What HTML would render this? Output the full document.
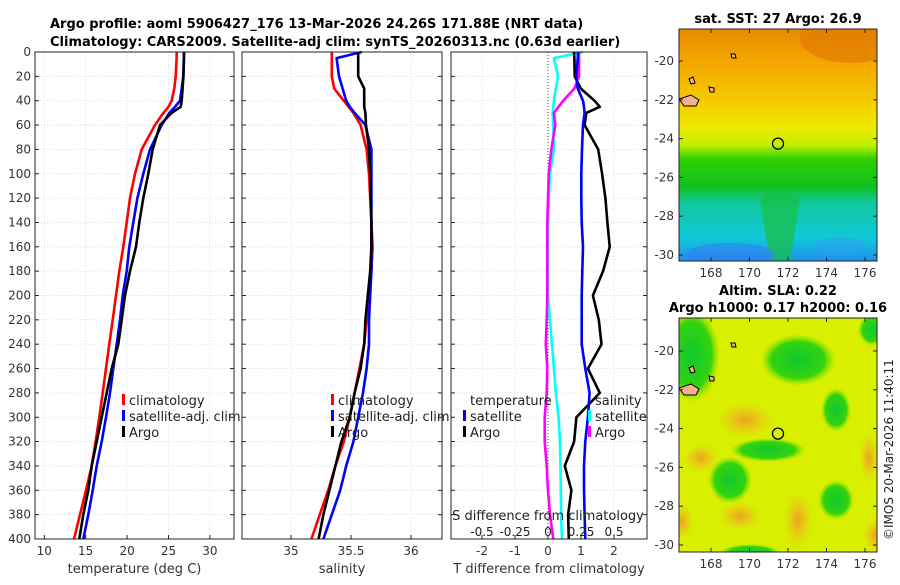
<!DOCTYPE html>
<html><head><meta charset="utf-8"><style>
body{margin:0;background:#fff;font-family:"Liberation Sans","DejaVu Sans",sans-serif}
svg text{font-family:"DejaVu Sans","Liberation Sans",sans-serif}
</style></head><body>
<svg id="chart" width="900" height="580" xmlns="http://www.w3.org/2000/svg">
<defs>
<linearGradient id="sstg" x1="0" y1="0" x2="0" y2="1">
<stop offset="0" stop-color="#e88a00"/><stop offset="0.15" stop-color="#f5a800"/><stop offset="0.3" stop-color="#f5c800"/><stop offset="0.42" stop-color="#f0e800"/><stop offset="0.5" stop-color="#c0f000"/><stop offset="0.56" stop-color="#30d000"/><stop offset="0.68" stop-color="#10c020"/><stop offset="0.75" stop-color="#10c8a0"/><stop offset="0.9" stop-color="#10c8d8"/><stop offset="1" stop-color="#2090f0"/>
</linearGradient>
<radialGradient id="gb"><stop offset="0" stop-color="#10c830"/><stop offset="0.7" stop-color="#20d010" stop-opacity="0.9"/><stop offset="1" stop-color="#80e000" stop-opacity="0"/></radialGradient>
<radialGradient id="ob"><stop offset="0" stop-color="#f0a020"/><stop offset="1" stop-color="#f0c020" stop-opacity="0"/></radialGradient>
</defs>
<g id="titles" font-size="13" font-weight="bold">
<text x="50" y="28">Argo profile: aoml 5906427_176 13-Mar-2026 24.26S 171.88E (NRT data)</text>
<text x="50" y="46">Climatology: CARS2009. Satellite-adj clim: synTS_20260313.nc (0.63d earlier)</text>
</g>
<g id="p1"></g><g id="p2"></g><g id="p3"></g>
<g id="maps"></g>
<text transform="translate(893,540) rotate(-90)" font-size="12" fill="#222">©IMOS 20-Mar-2026 11:40:11</text>
</svg>
<script>
const NS='http://www.w3.org/2000/svg';
const depths=[0,5,20,30,40,45,50,60,80,100,120,140,160,180,200,220,240,260,280,300,320,340,360,380,400];
const tempClim=[25.99,25.98,25.87,25.7,25.39,25.0,24.38,23.37,21.76,20.95,20.35,19.95,19.54,19.06,18.66,18.26,17.85,17.45,17.05,16.64,16.2,15.72,15.04,14.31,13.59];
const tempSat=[26.87,26.86,26.79,26.59,26.39,25.8,25.1,24.18,22.77,21.96,21.24,20.75,20.27,19.95,19.47,19.14,18.74,18.33,17.93,17.45,16.93,16.33,15.84,15.31,14.71];
const tempArgo=[26.87,26.86,26.8,26.7,26.6,26.47,25.39,23.97,23.09,22.56,21.96,21.47,21.07,20.35,19.75,19.35,18.94,18.14,17.54,16.93,16.33,15.72,15.31,14.71,14.23];
const salClim=[35.34,35.34,35.34,35.36,35.44,35.48,35.52,35.58,35.63,35.65,35.66,35.67,35.68,35.67,35.65,35.63,35.61,35.57,35.53,35.49,35.44,35.37,35.31,35.24,35.17];
const salSat=[35.59,35.38,35.40,35.43,35.46,35.49,35.53,35.62,35.67,35.67,35.67,35.67,35.67,35.67,35.66,35.65,35.65,35.63,35.60,35.56,35.52,35.46,35.41,35.34,35.27];
const salArgo=[35.56,35.56,35.56,35.61,35.61,35.61,35.62,35.625,35.65,35.66,35.665,35.67,35.67,35.66,35.64,35.62,35.61,35.58,35.53,35.49,35.42,35.37,35.32,35.27,35.23];
const dTSat=[0.91,0.9,0.86,0.9,1.06,1.09,1.11,1.06,1.03,1.01,1.01,1.02,1.06,1.04,1.02,1.02,1.02,1.13,1.26,1.21,1.13,1.09,1.09,1.11,1.13];
const dTArgo=[0.79,0.8,0.81,0.99,1.41,1.57,1.16,1.11,1.52,1.64,1.74,1.80,1.87,1.67,1.36,1.54,1.62,1.21,1.57,0.86,0.79,0.51,0.71,0.61,0.63];
const dSSat=[0.265,0.045,0.076,0.06,0.045,0.04,0.035,0.04,0.045,0.015,0.005,0,0,0,0,0.015,0.03,0.045,0.06,0.08,0.09,0.095,0.097,0.1,0.105];
const dSArgo=[0.235,0.235,0.235,0.2,0.115,0.08,0.045,0.055,0.025,0.005,0,-0.005,-0.005,-0.005,-0.005,-0.01,-0.017,-0.005,-0.01,-0.025,-0.025,-0.01,0.0,0.015,0.04];
const depthTicks=[0,20,40,60,80,100,120,140,160,180,200,220,240,260,280,300,320,340,360,380,400];
const tempTicks=[10,15,20,25,30];
const salTicks=[35,35.5,36];
const dTTicks=[-2,-1,0,1,2];
const dSTicks=[-0.5,-0.25,0,0.25,0.5];
const dSTickLabels=['-0.5','-0.25','0','0.25','0.5'];

const Y0=52,Y1=539;
const yD=d=>Y0+(d/400)*(Y1-Y0);
function el(t,a,p){const e=document.createElementNS(NS,t);for(const k in a)e.setAttribute(k,a[k]);(p||document.getElementById('chart')).appendChild(e);return e;}
function txt(s,a,p){const e=el('text',a,p);e.textContent=s;return e;}

function panel(g,x0,x1,xf,ticks,labels,xlabel){
  const G=document.getElementById(g);
  el('rect',{x:x0,y:Y0,width:x1-x0,height:Y1-Y0,fill:'#fff',stroke:'none'},G);
  depthTicks.forEach(d=>{el('line',{x1:x0,x2:x1,y1:yD(d),y2:yD(d),stroke:'#cfd3e6','stroke-width':0.8,'stroke-dasharray':'1,2'},G);
    el('line',{x1:x0,x2:x0+4,y1:yD(d),y2:yD(d),stroke:'#222'},G);el('line',{x1:x1,x2:x1-4,y1:yD(d),y2:yD(d),stroke:'#222'},G);});
  ticks.forEach((v,i)=>{const x=xf(v);
    el('line',{x1:x,x2:x,y1:Y0,y2:Y1,stroke:'#cfd3e6','stroke-width':0.8,'stroke-dasharray':'1,2'},G);
    el('line',{x1:x,x2:x,y1:Y1,y2:Y1-4,stroke:'#222'},G);
    const t=txt(labels[i],{x:x,y:Y1+16,'font-size':12,'text-anchor':'middle',fill:'#333'},G);
    });
  const xl=txt(xlabel,{x:(x0+x1)/2,y:Y1+34,'font-size':13,'text-anchor':'middle',fill:'#333'},G);
  
  return G;
}
function line(G,xf,vals,col,name){
  const pts=vals.map((v,i)=>xf(v).toFixed(1)+','+yD(depths[i]).toFixed(1)).join(' ');
  const p=el('polyline',{points:pts,fill:'none',stroke:col,'stroke-width':2.6,'stroke-linejoin':'round'},G);
  
}
function frame(G,x0,x1){el('rect',{x:x0,y:Y0,width:x1-x0,height:Y1-Y0,fill:'none',stroke:'#222','stroke-width':1},G);}
function legend(G,x,y,items){items.forEach((it,i)=>{
  el('rect',{x:x,y:y+i*16-11,width:3,height:11,fill:it[1]},G);
  const t=txt(it[0],{x:x+7,y:y+i*16,'font-size':13,fill:'#222'},G);
  });}

// Panel 1 temperature
const xT=v=>44.3+(v-10)*8.28;
let G=panel('p1',35,234,xT,tempTicks,tempTicks.map(String),'temperature (deg C)');
depthTicks.forEach(d=>{
 const t=txt(String(d),{x:31,y:yD(d)+4,'font-size':12,'text-anchor':'end',fill:'#333'},G);
 });
line(G,xT,tempClim,'#f00','temp-climatology-line');
line(G,xT,tempSat,'#00f','temp-satellite-adj-line');
line(G,xT,tempArgo,'#000','temp-argo-line');
legend(G,122,405,[['climatology','#f00'],['satellite-adj. clim','#00f'],['Argo','#000']]);
frame(G,35,234);

// Panel 2 salinity
const xS=v=>291+(v-35)*120;
G=panel('p2',242,442,xS,salTicks,['35','35.5','36'],'salinity');
line(G,xS,salClim,'#f00','sal-climatology-line');
line(G,xS,salSat,'#00f','sal-satellite-adj-line');
line(G,xS,salArgo,'#000','sal-argo-line');
legend(G,331,405,[['climatology','#f00'],['satellite-adj. clim','#00f'],['Argo','#000']]);
frame(G,242,442);

// Panel 3 differences
const xdT=v=>548+v*33;
const xdS=v=>548+v*132;
G=panel('p3',451,647,xdT,dTTicks,dTTicks.map(String),'T difference from climatology');
el('line',{x1:548,x2:548,y1:Y0,y2:Y1,stroke:'#444','stroke-dasharray':'1,2'},G);
line(G,xdS,dSSat,'#0ff','sdiff-satellite-line');
line(G,xdS,dSArgo,'#f0f','sdiff-argo-line');
line(G,xdT,dTArgo,'#000','tdiff-argo-line');
line(G,xdT,dTSat,'#00f','tdiff-satellite-line');
txt('temperature',{x:470,y:405,'font-size':13,fill:'#222'},G);
legend(G,463,421,[['satellite','#00f'],['Argo','#000']]);
txt('salinity',{x:595,y:405,'font-size':13,fill:'#222'},G);
legend(G,588,421,[['satellite','#0ff'],['Argo','#f0f']]);
txt('S difference from climatology',{x:548,y:520,'font-size':13,'text-anchor':'middle',fill:'#222'},G);
dSTicks.forEach((v,i)=>{const t=txt(dSTickLabels[i],{x:xdS(v),y:536,'font-size':12,'text-anchor':'middle',fill:'#222'},G);
 });
frame(G,451,647);

// Maps
const M=document.getElementById('maps');
function map(y0,y1,latTop,title,kind){
  const x0=679,x1=877;
  const g=el('g',{},M);
  
  const cp='c'+kind;
  const c=el('clipPath',{id:cp},g);el('rect',{x:x0,y:y0,width:x1-x0,height:y1-y0},c);
  const inner=el('g',{'clip-path':'url(#'+cp+')'},g);
  if(kind==='sst'){
    el('rect',{x:x0,y:y0,width:x1-x0,height:y1-y0,fill:'url(#sstg)'},inner);
    el('ellipse',{cx:850,cy:38,rx:50,ry:25,fill:'#e07800',opacity:0.6},inner);
    el('path',{d:'M760,200 Q778,180 800,200 L790,262 L770,262 Z',fill:'#18c040',opacity:0.7},inner);
    el('ellipse',{cx:730,cy:255,rx:45,ry:12,fill:'#3080f0',opacity:0.6},inner);
    el('ellipse',{cx:840,cy:245,rx:25,ry:8,fill:'#30a0f0',opacity:0.5},inner);
  }else{
    el('rect',{x:x0,y:y0,width:x1-x0,height:y1-y0,fill:'#d8f000'},inner);
    [[692,355,28,48],[798,360,38,26],[836,410,15,22],[768,450,38,12],[730,480,22,24],[836,500,18,20],[872,330,14,16],[750,552,30,8]].forEach(b=>el('ellipse',{cx:b[0],cy:b[1],rx:b[2],ry:b[3],fill:'url(#gb)'},inner));
    [[701,458,18,15],[869,458,10,25],[682,522,12,18],[740,516,22,15],[798,520,15,30],[875,535,12,18],[745,420,30,18]].forEach(b=>el('ellipse',{cx:b[0],cy:b[1],rx:b[2],ry:b[3],fill:'url(#ob)'},inner));
  }
  el('path',{d:`M${x0},${y0+70} l12,-4 l8,5 l-3,6 l-12,0 z`,fill:'#f5b090',stroke:'#000','stroke-width':1},inner);
  el('path',{d:`M${x0+10},${y0+50} l4,-2 l2,6 l-4,1 z`,fill:'#f5b090',stroke:'#000'},inner);
  el('path',{d:`M${x0+30},${y0+58} l5,1 l0,4 l-4,0 z`,fill:'#f5b090',stroke:'#000'},inner);
  el('path',{d:`M${x0+52},${y0+25} l4,0 l1,4 l-4,0 z`,fill:'#f5b090',stroke:'#000'},inner);
  el('circle',{cx:778,cy:y0+(24.26+latTop)*19.4,r:5.5,fill:'none',stroke:'#000','stroke-width':1.3},inner);
  el('rect',{x:x0,y:y0,width:x1-x0,height:y1-y0,fill:'none',stroke:'#222'},g);
  [168,170,172,174,176].forEach(l=>{const x=711+(l-168)*19.25;
    el('line',{x1:x,x2:x,y1:y1,y2:y1-4,stroke:'#222'},g);el('line',{x1:x,x2:x,y1:y0,y2:y0+4,stroke:'#222'},g);
    txt(String(l),{x:x,y:y1+16,'font-size':12,'text-anchor':'middle',fill:'#333'},g);});
  [-20,-22,-24,-26,-28,-30].forEach(l=>{const y=y0+(-l+latTop)*19.4;
    el('line',{x1:x1,x2:x1-4,y1:y,y2:y,stroke:'#222'},g);el('line',{x1:x0,x2:x0+4,y1:y,y2:y,stroke:'#222'},g);
    txt(String(l),{x:674,y:y+4,'font-size':12,'text-anchor':'end',fill:'#333'},g);});
  title.forEach((t,i)=>txt(t,{x:778,y:y0-6-(title.length-1-i)*17,'font-size':13,'font-weight':'bold','text-anchor':'middle'},g));
}
map(29,261,-18.35,['sat. SST: 27 Argo: 26.9'],'sst');
map(318,552,-18.3,['Altim. SLA: 0.22','Argo h1000: 0.17 h2000: 0.16'],'sla');
</script>
</body></html>
